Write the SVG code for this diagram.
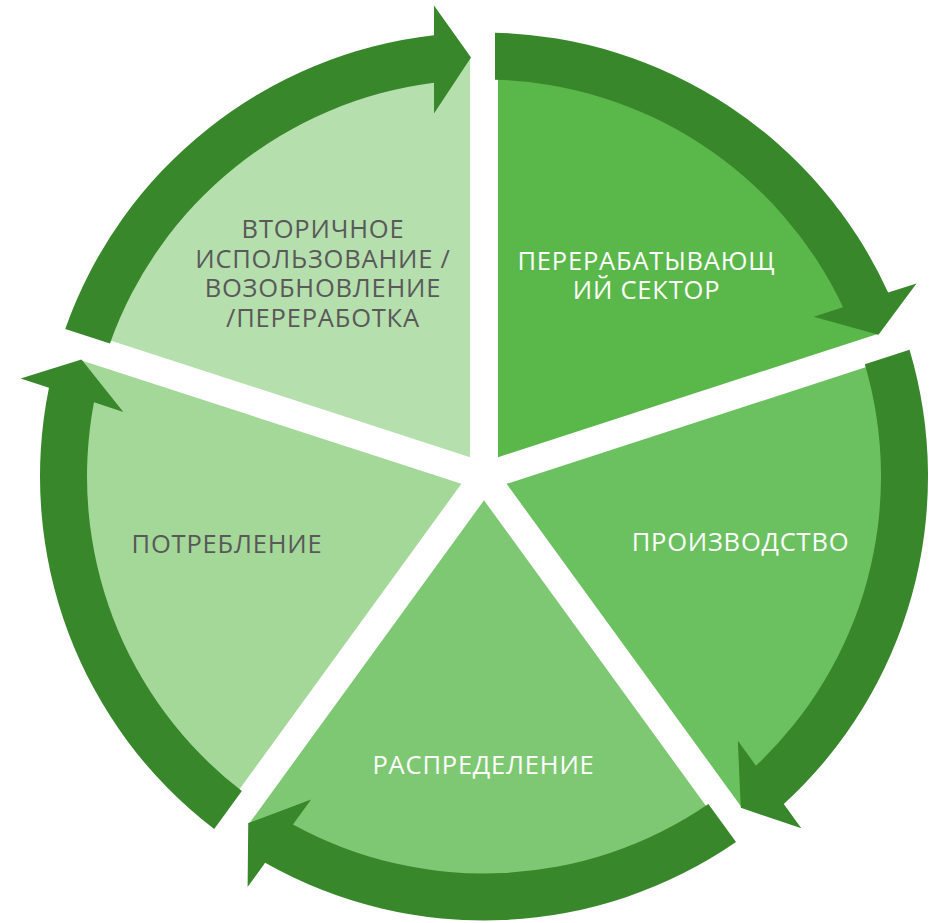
<svg xmlns="http://www.w3.org/2000/svg" width="935" height="923" viewBox="0 0 935 923">
<style>
.arrow{fill:#38872b}
.lbl{font-family:"Open Sans","Noto Sans","DejaVu Sans",sans-serif;font-size:25.5px;letter-spacing:0.8px;text-anchor:middle}
.w{fill:#ffffff}
.g{fill:#595959}
</style>
<rect width="935" height="923" fill="#ffffff"/>
<g id="node-pererabat">
<path d="M497.99,457.25 L497.99,57.25 A400,400 0 0 1 878.41,333.64 Z" fill="#5ab84a"/>
<text class="lbl w"><tspan x="646.5" y="269.5">ПЕРЕРАБАТЫВАЮЩ</tspan><tspan x="646.5" y="298.5">ИЙ СЕКТОР</tspan></text>
</g>
<g id="node-proizvodstvo">
<path d="M506.64,483.85 L887.06,360.24 A400,400 0 0 1 741.75,807.46 Z" fill="#6bc15f"/>
<text class="lbl w" x="740.5" y="551">ПРОИЗВОДСТВО</text>
</g>
<g id="node-raspredelenie">
<path d="M484,500.3 L719.11,823.91 A400,400 0 0 1 248.89,823.91 Z" fill="#7fc873"/>
<text class="lbl w" x="483.5" y="774">РАСПРЕДЕЛЕНИЕ</text>
</g>
<g id="node-potreblenie">
<path d="M461.36,483.85 L226.25,807.46 A400,400 0 0 1 80.94,360.24 Z" fill="#a3d898"/>
<text class="lbl g" x="227" y="553">ПОТРЕБЛЕНИЕ</text>
</g>
<g id="node-vtorichnoe">
<path d="M470.01,457.25 L89.59,333.64 A400,400 0 0 1 470.01,57.25 Z" fill="#b6dfae"/>
<text class="lbl g"><tspan x="323" y="238">ВТОРИЧНОЕ</tspan><tspan x="323" y="267.5">ИСПОЛЬЗОВАНИЕ /</tspan><tspan x="323" y="297">ВОЗОБНОВЛЕНИЕ</tspan><tspan x="323" y="326.5">/ПЕРЕРАБОТКА</tspan></text>
</g>
<g id="connectors">
<path class="arrow" d="M495,32.64 A444,444 0 0 1 888.14,292.62 L916.5,283.4 L878.47,334.66 L813.78,316.78 L843.11,307.25 A397,397 0 0 0 495,79.65 Z"/>
<path class="arrow" d="M909.54,349.8 A444,444 0 0 1 783.77,804.03 L801.3,828.16 L740.8,807.84 L737.82,740.78 L755.94,765.73 A397,397 0 0 0 864.83,364.33 Z"/>
<path class="arrow" d="M736,842.06 A444,444 0 0 1 265.13,862.81 L247.6,886.94 L248.24,823.12 L311.08,799.56 L292.96,824.51 A397,397 0 0 0 708.36,804.03 Z"/>
<path class="arrow" d="M214.2,829.12 A444,444 0 0 1 48.96,387.72 L20.6,378.5 L81.49,359.38 L123.32,411.88 L93.99,402.35 A397,397 0 0 0 241.84,791.09 Z"/>
<path class="arrow" d="M65.26,328.88 A444,444 0 0 1 434,35.32 L434,5.5 L471,57.5 L434,113.5 L434,82.66 A397,397 0 0 0 109.97,343.41 Z"/>
</g>
</svg>
